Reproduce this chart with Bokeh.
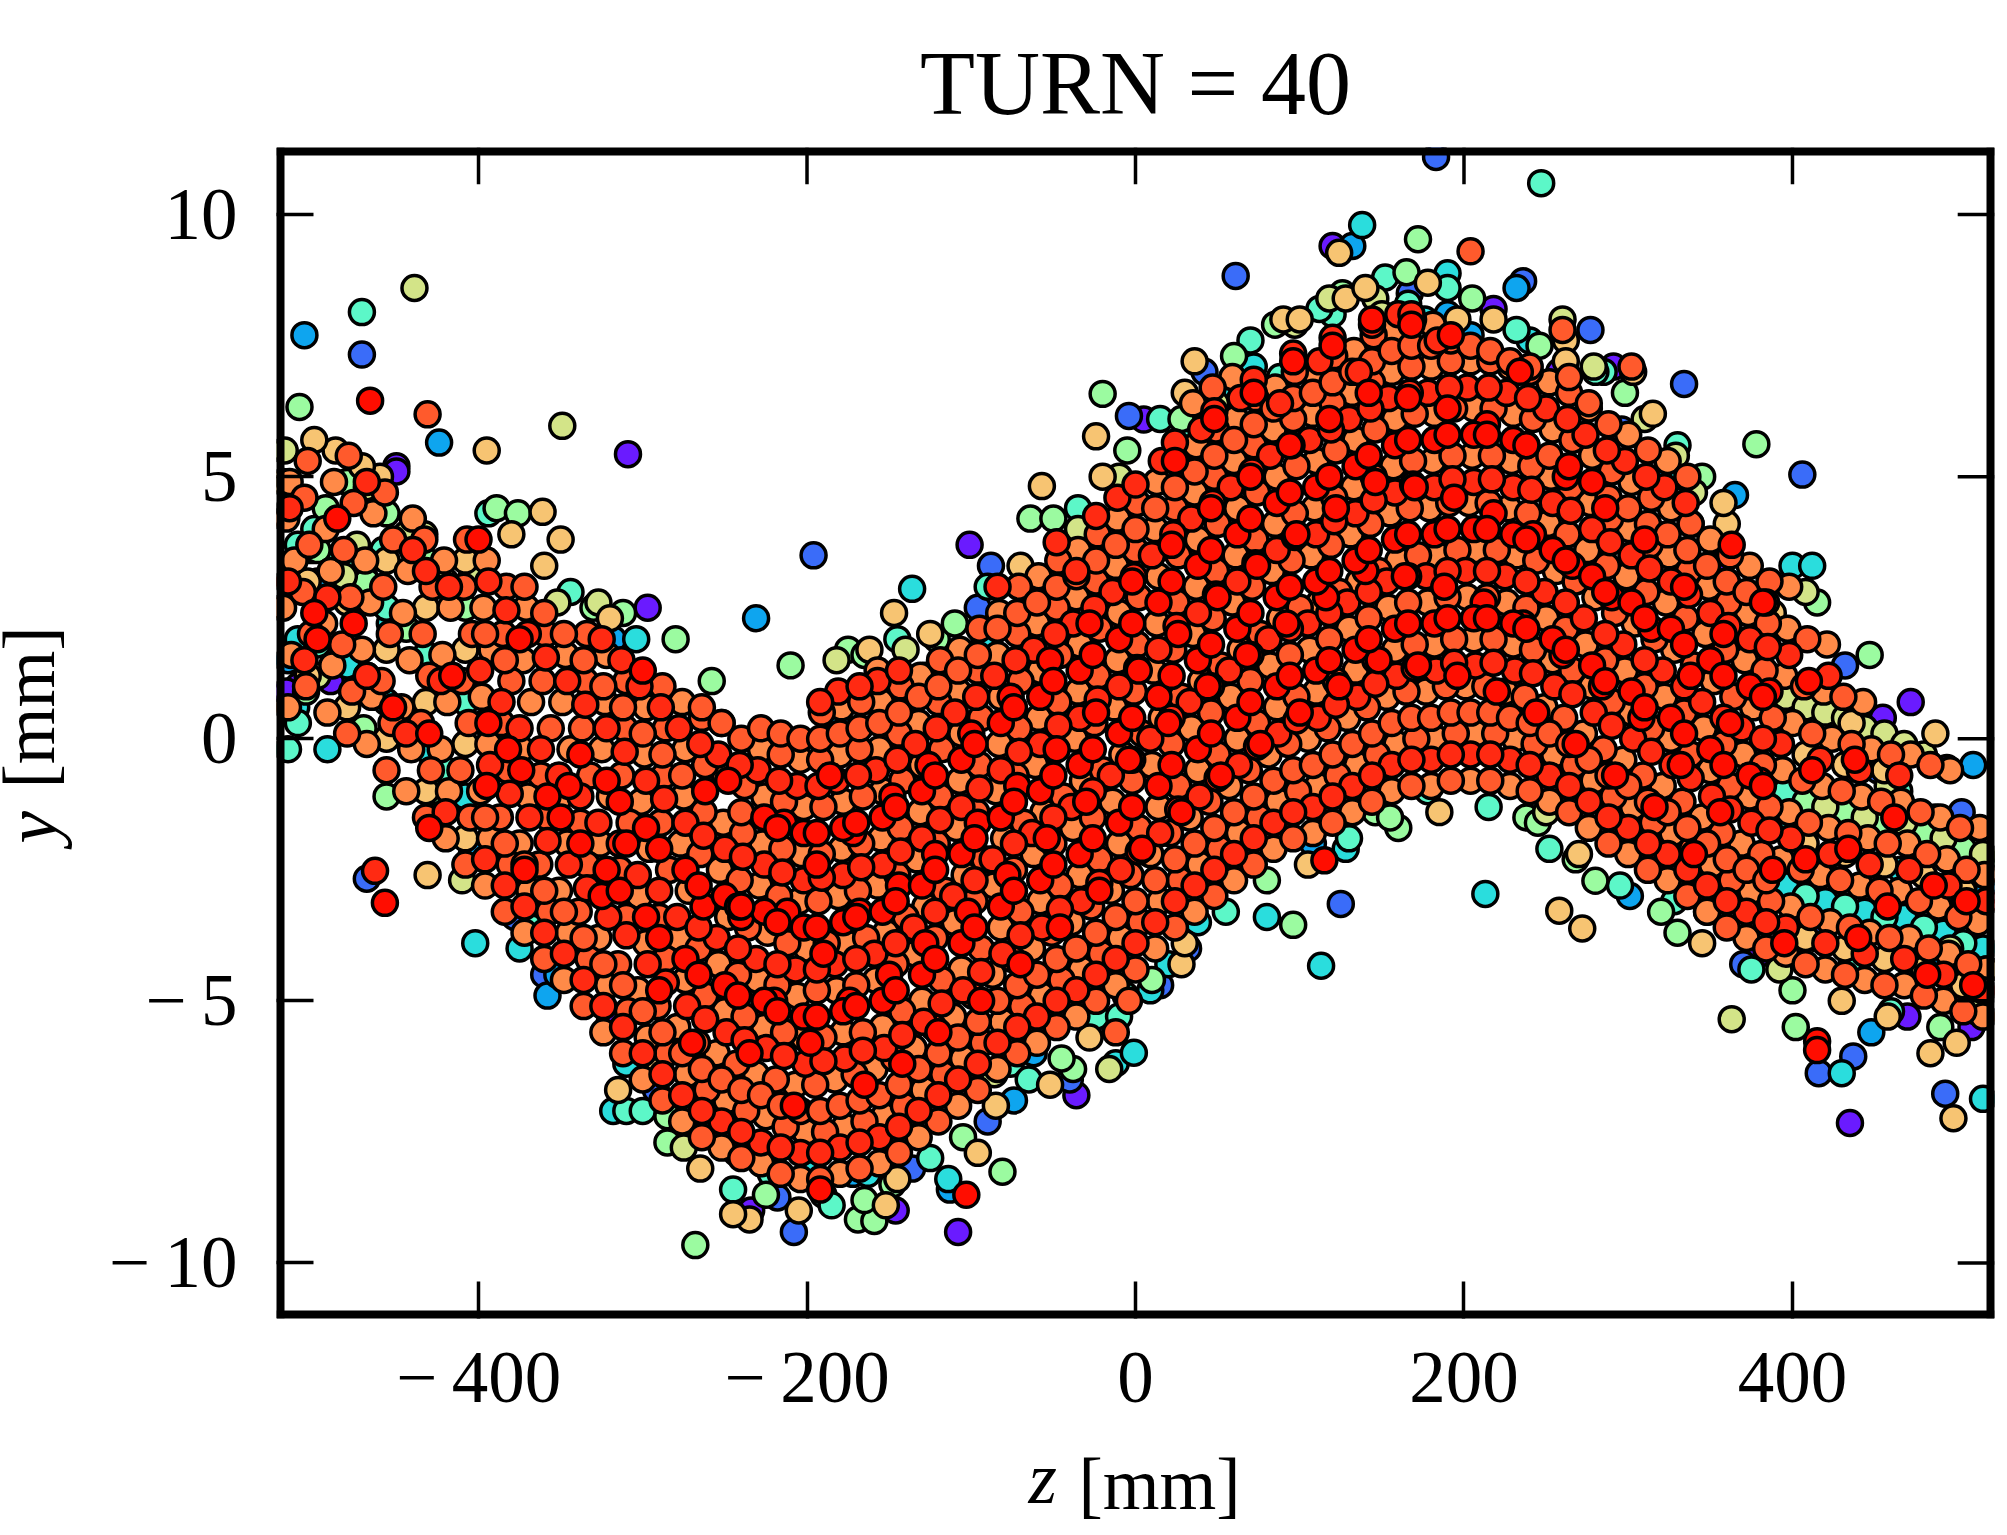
# -*- coding: utf-8 -*-
# TURN = 40 : particles in the z-y plane, coloured by index
import math

from bokeh.embed import file_html
from bokeh.models import Label, FixedTicker, Range1d, Span
from bokeh.plotting import figure
from bokeh.resources import INLINE

x_ticks = [-400, -200, 0, 200, 400]
y_ticks = [-10, -5, 0, 5, 10]
x_labels = {-400: "\u2212\u2009400", -200: "\u2212\u2009200", 0: "0", 200: "200", 400: "400"}
y_labels = {-10: "\u2212\u200910", -5: "\u2212\u20095", 0: "0", 5: "5", 10: "10"}
z_min, z_max = -523, 523
y_min, y_max = -11.06, 11.28

# (z, y) per colour, drawn from the first list to the last
violet = [(-309,5.43),(-101,3.7),(5,6.09),(-108,-9.41),(-146,-9.0),(-234,-9.0),(435,-7.33),(494,-.56),(472,.7),(-297,2.5),
 (-510,1.0),(-490,1.1),(-36,-6.8),(120,9.4),(218,8.2),(258,7.0),(291,7.1),(355,3.3),(455,.4),(-320,-5.4),(-386,-2.2),
 (-450,5.2),(-470,3.2),(440,-3.5),(470,-5.3),(509,-5.5),(-517,.9),(-450,5.1),(380,-4.1),(345,-2.9)]
blue = [(-471,7.33),(-196,3.5),(-88,3.3),(61,8.83),(183,11.1),(236,8.73),(277,7.8),(334,6.77),(406,5.04),(-4,6.16),
 (-468,-2.67),(-208,-9.41),(-218,-8.75),(-292,-6.7),(-378,-3.4),(32,-4.0),(125,-3.15),(432,1.4),(416,-6.38),(437,-6.06),
 (493,-6.77),(-44,3.6),(42,7.0),(296,5.9),(338,4.1),(370,-4.3),(414,-3.8),(476,-2.3),(503,-1.4),(-360,-4.5),(-96,2.5),
 (-136,-8.2),(-90,-7.3),(-40,-6.5),(15,-4.7),(452,-.6),(-495,2.9),(167,8.5),(192,7.2)]
azure = [(-506,7.7),(-424,5.65),(-231,2.3),(-498,3.0),(-516,1.5),(-358,-4.9),(-352,-4.5),(-318,1.9),(-172,-8.3),(-180,.2),
 (-113,-8.6),(-74,-6.9),(-62,-6.0),(132,9.4),(232,8.6),(190,8.1),(204,7.7),(365,4.65),(346,3.2),(322,4.9),(402,-3.6),
 (438,-1.9),(510,-.5),(486,-4.4),(448,-5.6),(301,-3.0),(150,-.9),(108,-2.0),(-88,2.0),(-440,.5),(-404,-2.2),(519,-2.9)]
teal = [(-513,3.3),(-502,3.6),(-511,.6),(-434,3.3),(-492,-.2),(-476,1.6),(-304,1.9),(-277,-7.6),(-248,-6.9),(-196,-8.3),
 (-163,-8.3),(-136,2.86),(-114,-8.4),(-12,-6.19),(-1,-5.99),(9,-4.8),(20,-4.3),(38,-3.5),(80,-3.4),(113,-4.33),(138,9.8),
 (190,8.88),(176,8.0),(213,-2.96),(72,7.1),(51,6.6),(48,6.2),(240,7.6),(333,5.0),(400,3.3),(412,3.3),(430,-6.38),(516,-6.87),
 (512,-4.0),(466,-2.5),(396,-1.6),(356,-2.2),(128,-2.1),(-318,-7.1),(-310,-6.2),(-375,-4.0),(-402,-3.9),(-454,2.2),(-92,1.9),
 (-510,1.9),(-480,1.4),(-456,.7),(-432,-.2),(-408,-1.1),(396,-2.8),(420,-3.1),(444,-3.3),(468,-3.4),(492,-3.7),(516,-4.0)]
mint = [(-471,8.14),(-458,3.6),(-500,4.0),(-487,3.4),(-516,-.2),(-510,.3),(-394,4.3),(-310,-7.1),(-298,.9),(-243,-7.9),(-222,-8.3),
 (-190,-8.7),(-128,1.2),(-76,-6.2),(-24,-5.3),(-6,-4.9),(33,6.0),(88,6.9),(247,10.6),(285,7.0),(166,8.3),(120,8.1),(316,4.6),(360,3.0),
 (380,2.7),(420,.9),(465,-1.0),(505,-3.1),(518,-4.4),(436,-4.3),(328,-3.1),(252,-2.1),(178,-1.0),(-368,-3.6),(-344,2.8),
 (-498,1.8),(-468,1.2),(-444,.3),(-420,-.6),(408,-3.0),(432,-3.2),(456,-3.4),(480,-3.6),(504,-3.9),(-510,3.7),(-480,3.2),(-456,2.5),(-432,1.6),(-408,.7),(396,-1.0),
 (70,7.6),(112,8.2),(152,8.8),(190,8.6),(232,7.8),(280,7.0),(330,5.6),(15,6.1),(-35,4.4),(-90,2.9),(-145,1.9),(-300,-7.1),(-245,-8.6),(-185,-8.9),(-125,-8.0),(-65,-6.5),(-10,-5.3),(55,-3.3),(130,-1.9),(215,-1.3),(295,-2.8),(375,-4.4),(460,-5.2)]
green = [(-509,6.33),(-493,4.4),(-389,4.4),(-376,4.3),(-268,-9.66),(-169,-9.17),(-159,-9.2),(-210,1.4),(-121,1.9),(-81,-8.26),(-148,-8.5),
 (-20,6.58),(172,9.53),(378,5.62),(96,-3.55),(280,-2.71),(160,-1.7),(146,-1.4),(60,7.3),(28,6.1),(-64,4.2),(-38,-6.3),(447,1.6),(415,2.6),
 (330,-3.7),(268,-2.3),(238,-1.5),(487,-1.5),(516,-2.3),(402,-5.5),(-330,2.5),(-312,2.4),(-260,-7.4),(-427,-1.0),(-456,-1.1),(-470,.2),(-505,.9),
 (-285,-7.2),(-175,1.7),(-280,1.9),(-258,1.1),(-498,3.6),(-468,3.0),(-444,2.1),(-420,1.2),(-396,.3),(408,-1.2),(432,-1.4),(456,-1.6),(480,-1.8),(504,-2.1),
 (-480,4.9),(-456,4.3),(-432,3.4),(-408,2.5),(85,7.9),(126,8.5),(165,8.9),(205,8.4),(246,7.5),(298,6.6),(345,5.0),(-5,5.5),(-50,4.2),(-110,2.2),(-165,1.6),(-285,-7.7),(-225,-8.7),(-165,-8.8),(-105,-7.6),(-45,-6.1),(10,-4.6),(80,-2.7),(155,-1.5),(245,-1.6),(320,-3.3),(400,-4.8),(490,-5.5)]
yellow = [(-439,8.6),(-349,5.97),(-518,5.5),(-482,3.1),(-433,3.9),(-404,3.1),(-352,2.6),(-327,2.6),(-298,.8),(-275,-7.8),(-205,-7.4),(-182,1.5),
 (-140,1.7),(-86,-6.4),(-16,-6.3),(49,6.4),(97,7.9),(118,8.4),(146,8.4),(150,8.1),(204,7.3),(310,6.1),(329,5.4),(340,4.7),(363,-5.35),(392,-4.4),(408,2.8),
 (458,-.9),(496,-4.0),(512,-5.2),(348,-3.3),(312,-1.3),(296,-1.9),(250,-1.4),(-410,-2.7),(-474,3.7),(-498,1.2),(-35,4.0),(-10,5.0),(260,8.0),(279,7.1),
 (-468,4.8),(-444,3.9),(-420,3.0),(420,-1.3),(444,-1.5),(468,-1.6),(492,-1.9),(516,-2.2),(396,.8),(408,.6),(420,.5),(432,.4),(444,.2),(456,.1),(468,-.1),(480,-.3)]
gold = [(-460,5.0),(-519,4.9),(-395,5.5),(-361,4.33),(-360,3.3),(-350,3.8),(-380,3.9),(-315,-6.7),(-235,-9.17),(-245,-9.07),(-147,2.4),(-162,1.7),(-431,-2.6),
 (-152,-8.9),(-96,-7.9),(-52,-6.6),(-24,5.77),(-57,4.82),(124,9.27),(36,7.2),(90,8.0),(128,8.4),(196,8.0),(258,-3.28),(272,-3.62),(262,7.6),(303,7.0),(360,4.1),
 (-290,-6.3),(-320,2.3),(-487,5.5),(-471,5.2),(498,-7.24),(487,.1),(484,-6.0),(458,-5.3),(388,2.4),(436,.3),(500,-5.8),(-500,5.7),(398,-3.8),(28,-4.3),
 (-504,3.0),(-480,2.6),(-456,1.7),(-432,.7),(-408,-.1),(-504,1.2),(-480,.6),(-456,.0),(-432,-1.0),(-408,-1.9),(-456,3.4),(-432,2.5),(-408,1.7),(-408,3.4),
 (408,-3.8),(432,-4.0),(456,-4.2),(480,-4.4),(504,-4.7),(408,-2.0),(432,-2.2),(456,-2.4),(480,-2.6),(504,-2.9),(408,-.3),(432,-.5),(456,-.6),
 (100,8.0),(140,8.6),(178,8.7),(218,8.0),(262,7.2),(315,6.2),(358,4.5),(30,6.6),(-20,5.0),(-70,3.3),(-125,2.0),(-265,-8.2),(-205,-9.0),(-145,-8.4),(-85,-7.0),(-28,-5.7),(30,-3.9),(105,-2.4),(185,-1.4),(270,-2.2),(345,-3.9),(430,-5.0)]
orange = [(-516,.6),(-514,1.6),(-519,2.5),(-512,3.4),(-517,4.2),(-515,4.9),
 (-492,.5),(-489,1.4),(-494,2.2),(-490,3.2),(-493,4.0),(-488,4.9),(-468,-.1),(-465,.8),(-471,1.7),(-466,2.6),(-469,3.4),(-464,4.3),
 (-444,-1.0),(-441,-.2),(-447,.6),(-442,1.5),(-446,2.4),(-443,3.2),(-440,4.2),(-420,-1.9),(-418,-1.0),(-423,-.2),(-419,.7),(-422,1.6),(-417,2.5),(-421,3.4),
 (-396,-2.8),(-393,-1.9),(-399,-1.0),(-394,-.1),(-398,.8),(-392,1.7),(-397,2.5),(-395,3.4),(-372,-3.7),(-369,-2.9),(-375,-2.0),(-370,-1.1),(-374,-.2),(-368,.7),(-373,1.5),(-371,2.5),
 (-348,-4.6),(-345,-3.7),(-351,-2.9),(-346,-2.0),(-350,-1.1),(-344,-.2),(-349,.7),(-347,1.6),(-324,-5.6),(-321,-4.7),(-327,-3.8),(-322,-2.9),(-326,-2.0),(-320,-1.1),(-325,-.2),(-323,.7),(-322,1.6),
 (-300,-6.5),(-297,-5.7),(-303,-4.8),(-298,-3.9),(-302,-3.0),(-296,-2.1),(-301,-1.2),(-299,-.3),(-298,.6),(-276,-7.3),(-273,-6.4),(-279,-5.5),(-274,-4.6),(-278,-3.8),(-272,-2.9),(-277,-2.0),(-275,-1.1),(-274,-.2),(-276,.7),
 (-252,-7.8),(-249,-6.9),(-255,-6.0),(-250,-5.2),(-254,-4.3),(-248,-3.4),(-253,-2.5),(-251,-1.6),(-250,-.7),(-252,.3),(-228,-8.1),(-225,-7.2),(-231,-6.4),(-226,-5.5),(-230,-4.6),(-224,-3.7),(-229,-2.8),(-227,-2.0),(-226,-1.1),(-228,-.2),
 (-204,-8.4),(-201,-7.5),(-207,-6.6),(-202,-5.7),(-206,-4.9),(-200,-4.0),(-205,-3.1),(-203,-2.2),(-202,-1.3),(-204,-.4),(-180,-8.3),(-177,-7.4),(-183,-6.5),(-178,-5.6),(-182,-4.8),(-176,-3.9),(-181,-3.0),(-179,-2.1),(-178,-1.2),(-180,-.3),(-179,.6),
 (-156,-8.1),(-153,-7.2),(-159,-6.3),(-154,-5.5),(-158,-4.6),(-152,-3.7),(-157,-2.8),(-155,-1.9),(-154,-1.0),(-156,-.2),(-155,.7),(-157,1.3),(-132,-7.6),(-129,-6.7),(-135,-5.9),(-130,-5.0),(-134,-4.1),(-128,-3.2),(-133,-2.3),(-131,-1.4),(-130,-.5),(-132,.3),(-131,1.2),
 (-108,-7.0),(-105,-6.1),(-111,-5.3),(-106,-4.4),(-110,-3.5),(-104,-2.6),(-109,-1.7),(-107,-.8),(-106,.1),(-108,.9),(-107,1.7),(-84,-6.3),(-81,-5.4),(-87,-4.5),(-82,-3.6),(-86,-2.8),(-80,-1.9),(-85,-1.0),(-83,-.1),(-82,.8),(-84,1.6),(-83,2.4),
 (-60,-5.8),(-57,-4.9),(-63,-4.0),(-58,-3.1),(-62,-2.2),(-56,-1.4),(-61,-.5),(-59,.4),(-58,1.3),(-60,2.2),(-59,3.1),(-36,-5.3),(-33,-4.4),(-39,-3.5),(-34,-2.6),(-38,-1.7),(-32,-.8),(-37,.0),(-35,.9),(-34,1.8),(-36,2.7),(-35,3.6),
 (-12,-4.7),(-9,-3.8),(-15,-2.9),(-10,-2.0),(-14,-1.2),(-8,-.3),(-13,.6),(-11,1.5),(-10,2.4),(-12,3.3),(-11,4.2),(12,-4.0),(15,-3.1),(9,-2.2),(14,-1.3),(10,-.5),(16,.4),(11,1.3),(13,2.2),(14,3.1),(12,4.0),(13,4.9),
 (36,-3.3),(39,-2.4),(33,-1.5),(38,-.6),(34,.2),(40,1.1),(35,2.0),(37,2.9),(38,3.8),(36,4.7),(37,5.6),(35,6.4),(60,-2.7),(63,-1.8),(57,-.9),(62,0),(58,.8),(64,1.7),(59,2.6),(61,3.5),(62,4.4),(60,5.3),(61,6.1),(59,6.9),
 (84,-2.1),(87,-1.2),(81,-.3),(86,.6),(82,1.4),(88,2.3),(83,3.2),(85,4.1),(86,5.0),(84,5.9),(85,6.7),(108,-1.8),(111,-.9),(105,0),(110,.9),(106,1.7),(112,2.6),(107,3.5),(109,4.4),(110,5.3),(108,6.2),(109,7.0),
 (132,-1.4),(135,-.5),(129,.4),(134,1.3),(130,2.1),(136,3.0),(131,3.9),(133,4.8),(134,5.7),(132,6.6),(133,7.4),(156,-1.0),(159,-.1),(153,.8),(158,1.7),(154,2.5),(160,3.4),(155,4.3),(157,5.2),(158,6.1),(156,7.0),(157,7.8),
 (180,-.9),(183,0),(177,.9),(182,1.8),(178,2.6),(184,3.5),(179,4.4),(181,5.3),(182,6.2),(180,7.1),(181,7.9),(204,-.8),(207,.1),(201,1.0),(206,1.9),(202,2.7),(208,3.6),(203,4.5),(205,5.4),(206,6.3),(204,7.2),
 (228,-.9),(231,0),(225,.9),(230,1.8),(226,2.6),(232,3.5),(227,4.4),(229,5.3),(230,6.2),(228,7.1),(252,-1.2),(255,-.3),(249,.6),(254,1.5),(250,2.3),(256,3.2),(251,4.1),(253,5.0),(254,5.9),(252,6.8),
 (276,-1.7),(279,-.8),(273,.1),(278,1.0),(274,1.8),(280,2.7),(275,3.6),(277,4.5),(278,5.4),(276,6.3),(300,-2.2),(303,-1.3),(297,-.4),(302,.5),(298,1.3),(304,2.2),(299,3.1),(301,4.0),(302,4.9),(300,5.8),
 (324,-2.7),(327,-1.8),(321,-.9),(326,0),(322,.8),(328,1.7),(323,2.6),(325,3.5),(326,4.4),(324,5.3),(348,-3.3),(351,-2.4),(345,-1.5),(350,-.6),(346,.2),(352,1.1),(347,2.0),(349,2.9),(350,3.8),
 (372,-3.8),(375,-2.9),(369,-2.0),(374,-1.1),(370,-.3),(376,.6),(371,1.5),(373,2.4),(374,3.3),(396,-4.1),(399,-3.2),(393,-2.3),(398,-1.4),(394,-.6),(400,.3),(395,1.2),(397,2.1),(398,2.9),
 (420,-4.4),(423,-3.5),(417,-2.6),(422,-1.7),(418,-.9),(424,0),(419,.9),(421,1.8),(444,-4.6),(447,-3.7),(441,-2.8),(446,-1.9),(442,-1.1),(448,-.2),(443,.7),(468,-4.7),(471,-3.8),(465,-2.9),(470,-2.0),(466,-1.2),(472,-.3),
 (492,-5.0),(495,-4.1),(489,-3.2),(494,-2.3),(490,-1.5),(496,-.6),(516,-5.3),(518,-4.4),(513,-3.5),(517,-2.6),(514,-1.7)]
coral = [(-505,1.0),(-502,2.0),(-507,2.8),(-503,3.7),(-506,4.6),(-504,5.3),(-480,.1),(-477,.9),(-483,1.8),(-478,2.7),(-482,3.6),(-476,4.5),(-479,5.4),
 (-456,-.6),(-453,.3),(-459,1.1),(-454,2.0),(-458,2.9),(-452,3.8),(-457,4.7),(-432,-1.5),(-429,-.6),(-435,.3),(-430,1.2),(-434,2.0),(-428,2.9),(-433,3.8),(-431,6.19),
 (-408,-2.4),(-405,-1.5),(-411,-.6),(-406,.3),(-410,1.1),(-404,2.0),(-409,2.9),(-407,3.8),(-384,-3.3),(-381,-2.4),(-387,-1.5),(-382,-.6),(-386,.3),(-380,1.1),(-385,2.0),(-383,2.9),
 (-360,-4.2),(-357,-3.3),(-363,-2.4),(-358,-1.5),(-362,-.7),(-356,.2),(-361,1.1),(-359,2.0),(-336,-5.1),(-333,-4.2),(-339,-3.3),(-334,-2.4),(-338,-1.6),(-332,-.7),(-337,.2),(-335,1.1),(-334,2.0),
 (-312,-6.0),(-309,-5.2),(-315,-4.3),(-310,-3.4),(-314,-2.5),(-308,-1.6),(-313,-.7),(-311,.2),(-310,1.1),(-288,-6.9),(-285,-6.0),(-291,-5.1),(-286,-4.2),(-290,-3.4),(-284,-2.5),(-289,-1.6),(-287,-.7),(-286,.2),(-288,1.0),
 (-264,-7.6),(-261,-6.7),(-267,-5.8),(-262,-4.9),(-266,-4.0),(-260,-3.1),(-265,-2.2),(-263,-1.4),(-262,-.5),(-264,.4),(-240,-8.0),(-237,-7.1),(-243,-6.2),(-238,-5.3),(-242,-4.5),(-236,-3.6),(-241,-2.7),(-239,-1.8),(-238,-.9),(-240,0),
 (-216,-8.3),(-213,-7.4),(-219,-6.5),(-214,-5.6),(-218,-4.7),(-212,-3.9),(-217,-3.0),(-215,-2.1),(-214,-1.2),(-216,-.3),(-192,-8.4),(-189,-7.5),(-195,-6.6),(-190,-5.7),(-194,-4.8),(-188,-3.9),(-193,-3.1),(-191,-2.2),(-190,-1.3),(-192,-.4),(-191,.5),
 (-168,-8.2),(-165,-7.3),(-171,-6.4),(-166,-5.6),(-170,-4.7),(-164,-3.8),(-169,-2.9),(-167,-2.0),(-166,-1.1),(-168,-.2),(-167,.7),(-144,-7.9),(-141,-7.0),(-147,-6.1),(-142,-5.2),(-146,-4.3),(-140,-3.4),(-145,-2.6),(-143,-1.7),(-142,-.8),(-144,.1),(-143,1.0),
 (-120,-7.3),(-117,-6.4),(-123,-5.5),(-118,-4.6),(-122,-3.8),(-116,-2.9),(-121,-2.0),(-119,-1.1),(-118,-.2),(-120,.7),(-119,1.5),(-96,-6.7),(-93,-5.8),(-99,-4.9),(-94,-4.0),(-98,-3.1),(-92,-2.3),(-97,-1.4),(-95,-.5),(-94,.4),(-96,1.3),(-95,2.1),
 (-72,-6.0),(-69,-5.1),(-75,-4.2),(-70,-3.3),(-74,-2.5),(-68,-1.6),(-73,-.7),(-71,.2),(-70,1.1),(-72,2.0),(-71,2.9),(-48,-5.5),(-45,-4.6),(-51,-3.7),(-46,-2.8),(-50,-2.0),(-44,-1.1),(-49,-.2),(-47,.7),(-46,1.6),(-48,2.5),(-47,3.4),
 (-24,-5.0),(-21,-4.1),(-27,-3.2),(-22,-2.3),(-26,-1.5),(-20,-.6),(-25,.3),(-23,1.2),(-22,2.1),(-24,3.0),(-23,3.9),(0,-4.4),(3,-3.5),(-3,-2.6),(2,-1.7),(-2,-.8),(4,.1),(-1,.9),(1,1.8),(2,2.7),(0,3.6),(1,4.5),
 (24,-3.6),(27,-2.7),(21,-1.8),(26,-.9),(22,-.1),(28,.8),(23,1.7),(25,2.6),(26,3.5),(24,4.4),(25,5.3),(48,-3.0),(51,-2.1),(45,-1.2),(50,-.3),(46,.5),(52,1.4),(47,2.3),(49,3.2),(50,4.1),(48,5.0),(49,5.9),(47,6.7),
 (72,-2.4),(75,-1.5),(69,-.6),(74,.3),(70,1.1),(76,2.0),(71,2.9),(73,3.8),(74,4.7),(72,5.6),(73,6.5),(96,-1.9),(99,-1.0),(93,-.1),(98,.8),(94,1.6),(100,2.5),(95,3.4),(97,4.3),(98,5.2),(96,6.1),(97,7.0),
 (120,-1.6),(123,-.7),(117,.2),(122,1.1),(118,1.9),(124,2.8),(119,3.7),(121,4.6),(122,5.5),(120,6.4),(121,7.3),(144,-1.2),(147,-.3),(141,.6),(146,1.5),(142,2.3),(148,3.2),(143,4.1),(145,5.0),(146,5.9),(144,6.8),(145,7.7),
 (168,-.9),(171,0),(165,.9),(170,1.8),(166,2.6),(172,3.5),(167,4.4),(169,5.3),(170,6.2),(168,7.1),(169,8.0),(192,-.8),(195,.1),(189,1.0),(194,1.9),(190,2.7),(196,3.6),(191,4.5),(193,5.4),(194,6.3),(192,7.2),(204,9.3),
 (216,-.8),(219,.1),(213,1.0),(218,1.9),(214,2.7),(220,3.6),(215,4.5),(217,5.4),(218,6.3),(216,7.2),(240,-1.0),(243,-.1),(237,.8),(242,1.7),(238,2.5),(244,3.4),(239,4.3),(241,5.2),(242,6.1),(240,7.0),(260,7.8),
 (264,-1.4),(267,-.5),(261,.4),(266,1.3),(262,2.1),(268,3.0),(263,3.9),(265,4.8),(266,5.7),(264,6.6),(288,-2.0),(291,-1.1),(285,-.2),(290,.7),(286,1.5),(292,2.4),(287,3.3),(289,4.2),(290,5.1),(288,6.0),(302,7.1),
 (312,-2.5),(315,-1.6),(309,-.7),(314,.2),(310,1.0),(316,1.9),(311,2.8),(313,3.7),(314,4.6),(312,5.5),(336,-3.0),(339,-2.1),(333,-1.2),(338,-.3),(334,.5),(340,1.4),(335,2.3),(337,3.2),(338,4.1),(336,5.0),
 (360,-3.6),(363,-2.7),(357,-1.8),(362,-.9),(358,-.1),(364,.8),(359,1.7),(361,2.6),(362,3.5),(384,-4.0),(387,-3.1),(381,-2.2),(386,-1.3),(382,-.5),(388,.4),(383,1.3),(385,2.2),(386,3.0),
 (408,-4.3),(411,-3.4),(405,-2.5),(410,-1.6),(406,-.8),(412,.1),(407,1.0),(409,1.9),(432,-4.5),(435,-3.6),(429,-2.7),(434,-1.8),(430,-1.0),(436,-.1),(431,.8),(456,-4.7),(459,-3.8),(453,-2.9),(458,-2.0),(454,-1.2),(460,-.3),
 (480,-4.9),(483,-4.0),(477,-3.1),(482,-2.2),(478,-1.4),(484,-.5),(504,-5.2),(507,-4.3),(501,-3.4),(506,-2.5),(502,-1.7),(-12,-5.6),(-4,-5.0),
 (-396,2.0),(-384,1.5),(-372,2.9),(-360,2.4),(-348,2.0),(-336,1.5),(-324,1.0),(-312,.6),(-300,.1),(-288,-.3),(-276,-.7),(-264,.6),(-252,.3),(-240,-1.4),(-228,.2),(-216,.1),(-204,0),(-192,0),(-180,.1),(-168,.2),(-156,.3),(-144,.5),(-132,.8),(-120,1.0),(-108,1.3),(-96,1.6),(-84,2.1),(-72,2.4),(-60,2.6),(-48,2.9),(-36,3.1),(-24,3.4),(-12,3.7),(0,4.0),(12,4.4),(24,4.8),(36,5.1),(48,5.4),(60,5.7),(72,6),(84,6.3),(96,6.5),(108,6.6),(120,6.8),(132,7),(144,7.2),(156,7.4),(168,7.5),(180,7.5),(192,7.6),(204,7.5),(216,7.4),(228,7.2),(240,7.1),(252,5.4),(264,6.9),(276,6.4),(288,4.6),(300,4.4),(312,4.1),(324,3.9),(336,3.6),(348,3.3),(360,3),(372,2.8),(384,2.6),
 (-396,-1.5),(-384,-2.0),(-372,-2.4),(-360,-2.9),(-348,-3.3),(-336,-3.8),(-324,-4.3),(-312,-4.7),(-300,-5.2),(-288,-5.6),(-276,-6.0),(-264,-6.3),(-252,-6.5),(-240,-6.7),(-228,-6.8),(-216,-7.0),(-204,-7.1),(-192,-7.1),(-180,-7),(-168,-6.9),(-156,-6.8),(-144,-6.6),(-132,-6.3),(-120,-6),(-108,-5.7),(-96,-5.4),(-84,-5),(-72,-4.7),(-60,-4.5),(-48,-4.2),(-36,-4),(-24,-3.7),(-12,-3.4),(0,-3.1),(12,-2.7),(24,-2.3),(36,-2),(48,-1.7),(60,-1.4),(72,-1.1),(84,-.8),(96,-.6),(108,-.5),(120,-.3),(132,-.1),(144,.1),(156,.3),(168,.4),(180,.4),(192,.5),(204,.5),(216,.5),(228,.4),(240,.3),(252,.1),(264,-.1),(276,-.4),(288,-.7),(300,-.9),(312,-1.2),(324,-1.4),(336,-1.7),(348,-2),(360,-2.3),(372,-2.5),(384,-2.7)]
scarlet = [(-516,3.0),(-492,2.7),(-468,1.2),(-444,.1),(-440,3.6),(-420,-1.4),(-423,1.1),(-418,2.9),(-396,-2.3),(-393,-.5),(-399,1.3),(-394,3.0),(-372,-3.2),(-369,-1.5),(-375,.2),(-370,2.0),
 (-348,-4.1),(-345,-2.4),(-351,-.7),(-346,1.1),(-324,-5.1),(-321,-3.4),(-327,-1.6),(-322,.2),(-325,1.9),(-300,-6.0),(-297,-4.3),(-303,-2.6),(-298,-.8),(-302,1.0),(-276,-6.8),(-273,-5.1),(-279,-3.4),(-274,-1.6),(-278,.2),
 (-252,-7.3),(-249,-5.6),(-255,-3.8),(-250,-2.1),(-254,-.3),(-228,-7.7),(-225,-5.9),(-231,-4.2),(-226,-2.4),(-230,-.6),(-204,-7.9),(-201,-6.2),(-207,-4.4),(-202,-2.7),(-206,-.9),(-180,-7.8),(-177,-6.1),(-183,-4.3),(-178,-2.6),(-182,-.8),(-181,.9),
 (-156,-7.6),(-153,-5.9),(-159,-4.1),(-154,-2.4),(-158,-.6),(-157,1.1),(-132,-7.1),(-129,-5.4),(-135,-3.6),(-130,-1.9),(-134,-.1),(-108,-6.5),(-105,-4.8),(-111,-3.0),(-106,-1.3),(-110,.5),(-84,-5.8),(-81,-4.1),(-87,-2.3),(-82,-.6),(-86,1.2),(-84,2.9),
 (-60,-5.3),(-57,-3.6),(-63,-1.8),(-58,-.1),(-62,1.7),(-36,-4.8),(-33,-3.1),(-39,-1.3),(-34,.4),(-38,2.2),(-36,3.2),(-12,-4.2),(-9,-2.5),(-15,-.7),(-10,1.0),(-14,2.8),(-11,4.6),(12,-3.5),(15,-1.8),(9,0),(14,1.7),(10,3.5),(16,5.3),
 (36,-2.8),(39,-1.1),(33,.7),(38,2.4),(34,4.2),(40,5.9),(60,-2.2),(63,-.5),(57,1.3),(62,3.0),(58,4.8),(64,6.5),(84,-1.6),(87,.1),(81,1.9),(86,3.6),(82,5.4),(88,6.4),(108,-1.3),(111,.4),(105,2.2),(110,3.9),(106,5.7),(112,7.2),
 (132,-.9),(135,.8),(129,2.6),(134,4.3),(130,6.1),(136,7.0),(156,-.5),(159,1.2),(153,3.0),(158,4.7),(154,6.5),(160,8.1),(180,-.4),(183,1.3),(177,3.1),(182,4.8),(178,6.6),(184,7.6),(204,-.3),(207,1.4),(201,3.2),(206,4.9),(202,6.7),
 (228,-.4),(231,1.3),(225,3.1),(230,4.8),(226,6.6),(252,-.7),(255,1.0),(249,2.8),(254,4.5),(250,6.3),(276,-1.2),(279,.5),(273,2.3),(278,4.0),(274,5.8),(300,-1.7),(303,0),(297,1.8),(302,3.5),(298,5.3),
 (324,-2.2),(327,-.5),(321,1.3),(326,3.0),(322,4.8),(348,-2.8),(351,-1.1),(345,.7),(350,2.4),(372,-3.3),(375,-1.6),(369,.2),(374,1.9),(396,-3.6),(399,-1.9),(393,-.1),(398,1.6),(420,-3.9),(423,-2.2),(417,-.4),(422,1.2),
 (444,-4.1),(447,-2.4),(441,-.6),(468,-4.2),(471,-2.5),(465,-.7),(492,-4.5),(495,-2.8),(516,-4.8),(518,-3.1),(-463,-2.52),(-468,4.9),(-515,4.4),(-506,1.5),(-432,3.2),
 (-384,-2.8),(-381,-1.05),(-386,.7),(-383,2.45),(-360,-3.7),(-358,-1.95),(-362,-.2),(-359,1.55),(-336,-4.6),(-334,-2.85),(-338,-1.1),(-335,.65),(-312,-5.5),(-310,-3.75),(-314,-2),(-311,-.25),(-313,1.5),(-288,-6.4),(-286,-4.65),(-290,-2.9),(-287,-1.15),(-289,.6),
 (-264,-7.1),(-262,-5.35),(-266,-3.6),(-263,-1.85),(-265,-.1),(-240,-7.5),(-238,-5.75),(-242,-4),(-239,-2.25),(-241,-.5),(-216,-7.8),(-214,-6.05),(-218,-4.3),(-215,-2.55),(-217,-.8),(-192,-7.9),(-190,-6.15),(-194,-4.4),(-191,-2.65),(-193,-.9),(-192,.7),
 (-168,-7.7),(-166,-5.95),(-170,-4.2),(-167,-2.45),(-169,-.7),(-168,1.0),(-144,-7.4),(-142,-5.65),(-146,-3.9),(-143,-2.15),(-145,-.4),(-144,1.3),(-120,-6.8),(-118,-5.05),(-122,-3.3),(-119,-1.55),(-121,.2),(-96,-6.2),(-94,-4.45),(-98,-2.7),(-95,-.95),(-97,.8),
 (-72,-5.5),(-70,-3.75),(-74,-2),(-71,-.25),(-73,1.5),(-48,-5),(-46,-3.25),(-50,-1.5),(-47,.25),(-49,2),(-48,3.75),(-24,-4.5),(-22,-2.75),(-26,-1),(-23,.75),(-25,2.5),(-24,4.25),(0,-3.9),(2,-2.15),(-2,-.4),(1,1.35),(-1,3.1),(0,4.85),
 (24,-3.1),(26,-1.35),(22,.4),(25,2.15),(23,3.9),(24,5.65),(48,-2.5),(50,-.75),(46,1),(49,2.75),(47,4.5),(48,6.25),(72,-1.9),(74,-.15),(70,1.6),(73,3.35),(71,5.1),(72,6.85),(96,-1.4),(98,.35),(94,2.1),(97,3.85),(95,5.6),(96,7.35),
 (120,-1.1),(122,.65),(118,2.4),(121,4.15),(119,5.9),(120,7.65),(144,-.7),(146,1.05),(142,2.8),(145,4.55),(143,6.3),(144,7.9),(168,-.4),(170,1.35),(166,3.1),(169,4.85),(167,6.6),(168,8.1),(192,-.3),(194,1.45),(190,3.2),(193,4.95),(191,6.7),
 (216,-.3),(218,1.45),(214,3.2),(217,4.95),(215,6.7),(240,-.5),(242,1.25),(238,3),(241,4.75),(239,6.5),(264,-.9),(266,.85),(262,2.6),(265,4.35),(263,6.1),(288,-1.5),(290,.25),(286,2),(289,3.75),(287,5.5),
 (312,-2),(314,-.25),(310,1.5),(313,3.25),(311,5),(336,-2.5),(338,-.75),(334,1),(337,2.75),(335,4.5),(360,-3.1),(362,-1.35),(358,.4),(361,2.15),(384,-3.5),(386,-1.75),(382,0),(385,1.75)]
red = [(-466,6.45),(-457,-3.13),(-430,-1.7),(115,-2.32),(415,-5.77),(415,-5.94),(-103,-8.7),(-192,-8.6),(-400,3.8),(-375,1.9),(-395,-.9),(-372,-2.5),(-345,-.9),(-325,-3.0),(-300,1.3),(-310,-2.0),(-290,-4.8),(-263,-3.2),(-270,-5.8),(-262,-1.0),(-240,-3.4),(-235,-6.0),(-248,-.8),
 (-214,-1.6),(-212,-3.3),(-220,-5.0),(-208,-7.0),(-194,-2.4),(-190,-4.1),(-198,-5.8),(-186,-.7),(-172,-1.8),(-168,-3.3),(-174,-5.0),(-165,-6.6),(-148,-1.1),(-144,-2.8),(-150,-4.5),(-142,-6.2),(-126,-.5),(-122,-2.2),(-128,-3.9),(-120,-5.6),(-100,.1),(-96,-1.6),(-102,-3.3),(-94,-5.0),
 (-76,.8),(-72,-.9),(-78,-2.6),(-70,-4.3),(-52,1.5),(-48,-.2),(-54,-1.9),(-46,-3.6),(-28,2.2),(-24,.5),(-30,-1.2),(-22,-2.9),(-2,3.0),(2,1.3),(-4,-.4),(4,-2.1),(22,3.7),(26,2.0),(20,.3),(28,-1.4),(24,5.3),(46,4.4),(50,2.7),(44,1.0),(52,-.7),(48,6.1),
 (70,5.0),(74,3.3),(68,1.6),(76,-.1),(72,6.6),(94,5.6),(98,3.9),(92,2.2),(100,.5),(96,7.2),(118,6.1),(122,4.4),(116,2.7),(124,1.0),(120,7.5),(142,6.6),(146,4.9),(140,3.2),(148,1.5),(144,8.0),(166,6.5),(170,4.8),(164,3.1),(172,1.4),(168,7.9),
 (190,6.3),(194,4.6),(188,2.9),(196,1.2),(192,7.7),(214,6.0),(218,4.3),(212,2.6),(220,.9),(238,5.6),(242,3.9),(236,2.2),(244,.5),(234,7.0),(262,5.0),(266,3.3),(260,1.6),(268,-.1),(286,4.4),(290,2.7),(284,1.0),(292,-.7),(310,3.8),(314,2.1),(308,.4),(316,-1.3),
 (334,2.9),(338,1.2),(332,-.5),(340,-2.2),(363,3.7),(358,2.0),(362,.3),(356,-1.4),(382,2.6),(386,.9),(380,-.8),(388,-2.5),(395,-3.9),(410,1.1),(412,-.6),(408,-2.3),(438,-.4),(434,-2.1),(440,-3.8),(462,-1.5),(458,-3.2),(486,-2.8),(482,-4.5),(510,-4.7),(506,-3.1),(-500,2.4),(-498,1.9),(-486,4.2),(-476,2.2),(-452,.6),(-416,1.2),(-430,.1),
 (-394,.3),(-382,-.2),(-374,-.6),(-358,-1.1),(-350,-1.5),(-338,-2.0),(-322,-2.5),(-314,-2.9),(-298,-3.4),(-290,-3.8),(-274,-4.2),(-266,-4.5),(-250,-4.7),(-242,-4.9),(-226,-5.0),(-218,-5.2),(-202,-5.3),(-194,-5.3),(-178,-5.2),(-170,-5.1),(-154,-5),(-146,-4.8),(-130,-4.5),(-122,-4.2),(-106,-3.9),(-98,-3.6),(-82,-3.2),(-74,-2.9),(-58,-2.7),(-50,-2.4),(-34,-2.2),(-26,-1.9),(-10,-1.6),(-2,-1.3),(14,-.9),(22,-.5),(38,-.2),(46,.1),(62,.4),(70,.7),(86,1),(94,1.2),(110,1.3),(118,1.5),(134,1.7),(142,1.9),(158,2.1),(166,2.2),(182,2.2),(190,2.3),(206,2.3),(214,2.3),(230,2.2),(238,2.1),(254,1.9),(262,1.7),(278,1.4),(286,1.1),(302,.9),(310,.6),(326,.4),(334,.1),(350,-.2),(358,-.5),(374,-.7),(382,-.9),
 (-338,-.3),(-322,-.8),(-314,-1.2),(-298,-1.7),(-290,-2.1),(-274,-2.5),(-266,-2.8),(-250,-3.0),(-242,-3.2),(-226,-3.3),(-218,-3.5),(-202,-3.6),(-194,-3.6),(-178,-3.5),(-170,-3.4),(-154,-3.3),(-146,-3.1),(-130,-2.8),(-122,-2.5),(-106,-2.2),(-98,-1.9),(-82,-1.5),(-74,-1.2),(-58,-1),(-50,-.7),(-34,-.5),(-26,-.2),(-10,.1),(-2,.4),(14,.8),(22,1.2),(38,1.5),(46,1.8),(62,2.1),(70,2.4),(86,2.7),(94,2.9),(110,3),(118,3.2),(134,3.4),(142,3.6),(158,3.8),(166,3.9),(182,3.9),(190,4),(206,4),(214,4),(230,3.9),(238,3.8),(254,3.6),(262,3.4),(278,3.1),(286,2.8),(302,2.6),(310,2.3),(326,2.1),(334,1.8),(350,1.5),(358,1.2),(374,1),(382,.8),
 (-240,-3.2),(-226,-1.5),(-218,-1.7),(-202,-1.8),(-194,-1.8),(-178,-1.7),(-170,-1.6),(-154,-1.5),(-146,-1.3),(-130,-1),(-122,-.7),(-106,-.4),(-98,-.1),(-82,.3),(-74,.6),(-58,.8),(-50,1.1),(-34,1.3),(-26,1.6),(-10,1.9),(-2,2.2),(14,2.6),(22,3),(38,3.3),(46,3.6),(62,3.9),(70,4.2),(86,4.5),(94,4.7),(110,4.8),(118,5),(134,5.2),(142,5.4),(158,5.6),(166,5.7),(182,5.7),(190,5.8),(206,5.8),(214,5.8),(230,5.7),(238,5.6),(264,5.2),(278,4.9)]

layers = [(violet, "#6a1bff"), (blue, "#3a6cf9"), (azure, "#0ea5ef"), (teal, "#2adddd"), (mint, "#5cf7c8"), (green, "#9bfba0"),
          (yellow, "#d3e488"), (gold, "#f7c472"), (orange, "#ff8a48"), (coral, "#ff5a2c"), (scarlet, "#ff2a12"), (red, "#ff0d00")]

p = figure(width=1997, height=1519, frame_width=1718, frame_height=1171, output_backend="svg", toolbar_location=None,
           x_range=Range1d(z_min, z_max), y_range=Range1d(y_min, y_max),
           min_border_left=276, min_border_right=3, min_border_top=147, min_border_bottom=199,
           title="TURN = 40")
p.grid.visible = False
p.outline_line_color = None
p.title.align = "center"
p.title.text_font = "Liberation Serif"
p.title.text_font_size = "90px"
p.title.text_font_style = "normal"
p.title.text_color = "black"
p.title.standoff = 29

for pts, colour in layers:
    p.scatter([q[0] for q in pts], [q[1] for q in pts], size=25, fill_color=colour,
              line_color="black", line_width=3.5)

for ax in p.xaxis + p.yaxis:
    ax.axis_line_color = None
    ax.major_tick_in = 37
    ax.major_tick_out = 0
    ax.major_tick_line_width = 3.5
    ax.major_tick_line_color = "black"
    ax.minor_tick_line_color = None
    ax.major_label_text_font = "Liberation Serif"
    ax.major_label_text_font_size = "73px"
    ax.major_label_text_color = "black"
p.xaxis.ticker = FixedTicker(ticks=x_ticks)
p.xaxis.major_label_overrides = x_labels
p.xaxis.major_label_standoff = 18
p.yaxis.ticker = FixedTicker(ticks=y_ticks)
p.yaxis.major_label_overrides = y_labels
p.yaxis.major_label_standoff = 39

# ticks on the top and right side, then the heavy frame (half of each line falls outside the clip)
p.segment(x_ticks, [y_max] * 5, x_ticks, [y_max - 0.7] * 5, line_color="black", line_width=3.5)
p.segment([z_max] * 5, y_ticks, [z_max - 22.4] * 5, y_ticks, line_color="black", line_width=3.5)
for loc, dim in [(z_min, "height"), (z_max, "height"), (y_min, "width"), (y_max, "width")]:
    p.add_layout(Span(location=loc, dimension=dim, line_color="black", line_width=16))

# axis titles, the variable in italics
p.add_layout(Label(x=752, y=-17, x_units="screen", y_units="screen", text="z", text_font="Liberation Serif",
                   text_font_size="73px", text_font_style="italic", text_color="black"), "below")
p.add_layout(Label(x=802, y=58, x_units="screen", y_units="screen", text="[mm]", text_font="Liberation Serif",
                   text_font_size="73px", text_color="black"), "below")
p.add_layout(Label(x=-1923, y=475, x_units="screen", y_units="screen", text="y", angle=math.pi / 2, text_font="Liberation Serif",
                   text_font_size="73px", text_font_style="italic", text_color="black"), "right")
p.add_layout(Label(x=45, y=530, x_units="screen", y_units="screen", text="[mm]", angle=math.pi / 2, text_font="Liberation Serif",
                   text_font_size="73px", text_color="black"), "left")

open("out.html", "w").write(file_html(p, INLINE))
